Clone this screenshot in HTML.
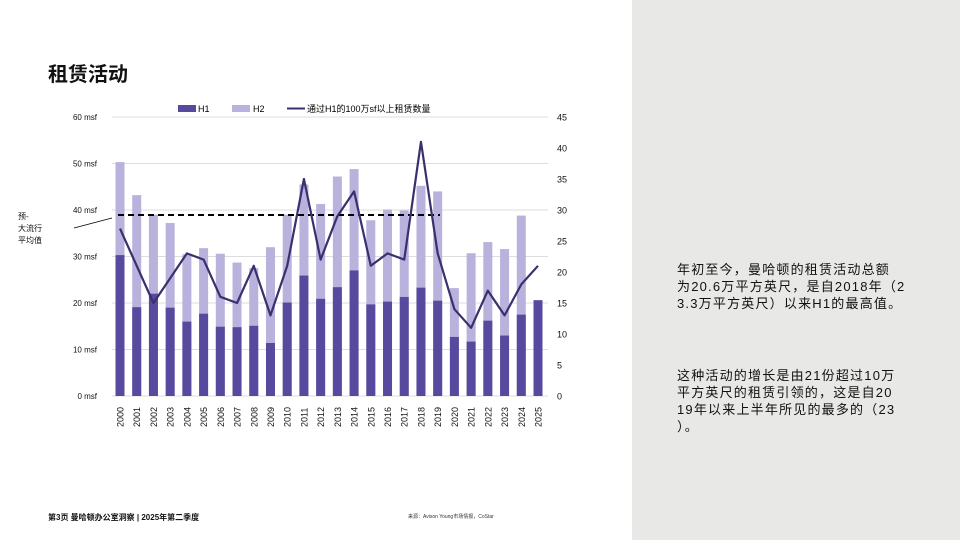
<!DOCTYPE html>
<html><head><meta charset="utf-8"><style>
body{margin:0;width:960px;height:540px;background:#fff;font-family:"Liberation Sans","Noto Sans CJK SC",sans-serif;overflow:hidden;position:relative}
.side{position:absolute;left:632px;top:0;width:328px;height:540px;background:#e8e8e6}
.t{position:absolute;left:677px;font-size:13px;line-height:17px;color:#111;white-space:nowrap;letter-spacing:1.2px}
h1{position:absolute;left:48px;top:58px;margin:0;font-size:20px;font-weight:bold;color:#111}
</style></head><body>
<div class="side"></div>
<h1>租赁活动</h1>
<div class="t" style="top:261px">年初至今，曼哈顿的租赁活动总额<br>为20.6万平方英尺，是自2018年（2<br>3.3万平方英尺）以来H1的最高值。</div>
<div class="t" style="top:367px">这种活动的增长是由21份超过10万<br>平方英尺的租赁引领的，这是自20<br>19年以来上半年所见的最多的（23<br>）。</div>
<div style="position:absolute;left:48px;top:512px;font-size:8px;font-weight:bold;color:#111">第3页 曼哈顿办公室洞察 | 2025年第二季度</div>
<div style="position:absolute;left:408px;top:513px;font-size:5px;color:#333">来源：Avison Young市场情报，CoStar</div>
<svg id="c" width="960" height="540" style="position:absolute;left:0;top:0" font-family="Liberation Sans, Noto Sans CJK SC, sans-serif"></svg>
<script>
var H1=[30.3,19.1,22,19,16,17.7,14.9,14.8,15.1,11.4,20.1,25.9,20.9,23.4,27,19.7,20.3,21.3,23.3,20.5,12.7,11.7,16.2,13,17.5,20.6];
var T=[50.3,43.2,39,37.2,30.5,31.8,30.6,28.7,27.5,32,39,45.5,41.3,47.2,48.8,37.8,40.1,39.9,45.2,44,23.2,30.7,33.1,31.6,38.8,20.6];
var L=[27,21,15,19,23,22,16,15,21,13,21,35,22,29,33,21,23,22,41,23,14,11,17,13,18,21];
var s='';
for(var i=0;i<=6;i++){var y=396-i*46.5;s+='<line x1="112" x2="548" y1="'+y+'" y2="'+y+'" stroke="#ddd" stroke-width="1"/>';
s+='<text x="97" y="'+(y+3)+'" font-size="8" text-anchor="end" fill="#111">'+(i*10)+' msf</text>';}
for(var i=0;i<=9;i++){var y=396-i*31;s+='<text x="557" y="'+(y+3.5)+'" font-size="9" fill="#111">'+(i*5)+'</text>';}
var px=[];
for(var i=0;i<26;i++){var x=120+i*16.72;px.push(x);
var yt=396-4.65*T[i],yh=396-4.65*H1[i];
s+='<rect x="'+(x-4.5)+'" y="'+yt+'" width="9" height="'+(396-yt)+'" fill="#b9b2dd"/>';
s+='<rect x="'+(x-4.5)+'" y="'+yh+'" width="9" height="'+(396-yh)+'" fill="#574a9e"/>';
s+='<text transform="translate('+(x+3.5)+',427) rotate(-90)" font-size="9" fill="#111">'+(2000+i)+'</text>';}
s+='<line x1="118" x2="440" y1="215" y2="215" stroke="#000" stroke-width="2" stroke-dasharray="6,4"/>';
var p=L.map(function(v,i){return px[i]+','+(396-6.2*v)}).join(' ');
s+='<polyline points="'+p+'" fill="none" stroke="#3b2f6e" stroke-width="2.2" stroke-linejoin="round"/>';
s+='<line x1="74" x2="112" y1="228" y2="218" stroke="#000" stroke-width="0.8"/>';
s+='<text font-size="8" fill="#111"><tspan x="18" y="219">预-</tspan><tspan x="18" y="231">大流行</tspan><tspan x="18" y="243">平均值</tspan></text>';
s+='<rect x="178" y="105" width="18" height="7" fill="#574a9e"/><text x="198" y="112" font-size="9">H1</text>';
s+='<rect x="232" y="105" width="18" height="7" fill="#b9b2dd"/><text x="253" y="112" font-size="9">H2</text>';
s+='<line x1="287" x2="305" y1="108.5" y2="108.5" stroke="#3b2f6e" stroke-width="2"/><text x="307" y="112" font-size="9">通过H1的100万sf以上租赁数量</text>';
document.getElementById('c').innerHTML=s;
</script>
</body></html>
